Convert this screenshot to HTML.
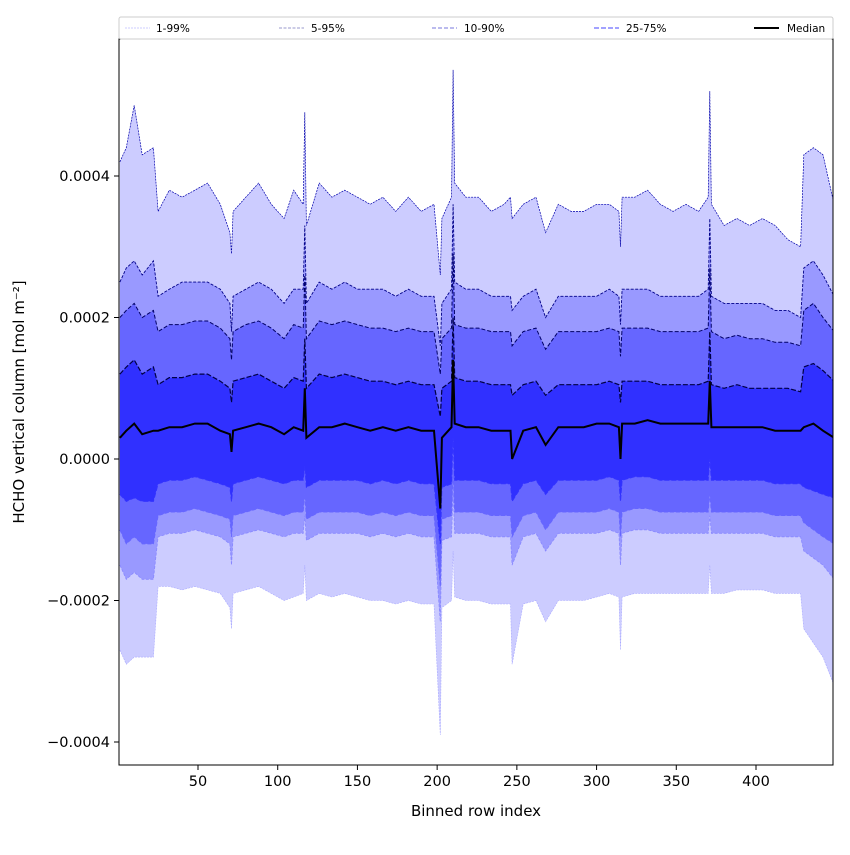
<!DOCTYPE html>
<html><head><meta charset="utf-8"><style>
body{margin:0;background:#fff;}
svg text{font-family:"DejaVu Sans","Liberation Sans",sans-serif;}
</style></head><body>
<svg id="chart" width="850" height="850" xmlns="http://www.w3.org/2000/svg"></svg>
<script>
const xs=[1,5,10,15,22,25,32,40,48,56,64,70,71,72,80,88,96,104,110,116,117,118,126,134,142,150,158,166,174,182,190,198,202,203,209,210,211,218,226,234,242,246,247,254,262,268,276,284,292,300,308,314,315,316,324,332,340,348,356,364,370,371,372,380,388,396,404,412,420,428,430,436,442,449];
const p99=[4.2,4.4,5.0,4.3,4.4,3.5,3.8,3.7,3.8,3.9,3.6,3.2,2.9,3.5,3.7,3.9,3.6,3.4,3.8,3.6,4.9,3.3,3.9,3.7,3.8,3.7,3.6,3.7,3.5,3.7,3.5,3.6,2.6,3.4,3.7,5.5,3.9,3.7,3.7,3.5,3.6,3.7,3.4,3.6,3.7,3.2,3.6,3.5,3.5,3.6,3.6,3.5,3.0,3.7,3.7,3.8,3.6,3.5,3.6,3.5,3.7,5.2,3.6,3.3,3.4,3.3,3.4,3.3,3.1,3.0,4.3,4.4,4.3,3.6];
const p95=[2.5,2.7,2.8,2.6,2.8,2.3,2.4,2.5,2.5,2.5,2.4,2.2,1.8,2.3,2.4,2.5,2.4,2.2,2.4,2.4,3.3,2.2,2.5,2.4,2.5,2.4,2.4,2.4,2.3,2.4,2.3,2.3,1.6,2.2,2.4,3.6,2.5,2.4,2.4,2.3,2.3,2.3,2.1,2.3,2.4,2.0,2.3,2.3,2.3,2.3,2.4,2.3,1.9,2.4,2.4,2.4,2.3,2.3,2.3,2.3,2.4,3.4,2.3,2.2,2.2,2.2,2.2,2.1,2.1,2.0,2.7,2.8,2.6,2.3];
const p90=[2.0,2.1,2.2,2.0,2.1,1.8,1.9,1.9,1.95,1.95,1.85,1.7,1.4,1.8,1.9,1.95,1.85,1.7,1.9,1.85,2.6,1.7,1.95,1.9,1.95,1.9,1.85,1.85,1.8,1.85,1.8,1.8,1.2,1.7,1.85,2.9,1.9,1.85,1.85,1.8,1.8,1.8,1.6,1.8,1.85,1.55,1.8,1.8,1.8,1.8,1.85,1.8,1.45,1.85,1.85,1.85,1.8,1.8,1.8,1.8,1.85,2.7,1.8,1.7,1.75,1.7,1.7,1.65,1.65,1.6,2.1,2.2,2.0,1.8];
const p75=[1.2,1.3,1.4,1.2,1.3,1.05,1.15,1.15,1.2,1.2,1.1,1.0,0.8,1.1,1.15,1.2,1.1,1.0,1.15,1.1,1.7,1.0,1.2,1.15,1.2,1.15,1.1,1.1,1.05,1.1,1.05,1.05,0.6,1.0,1.1,2.0,1.15,1.1,1.1,1.05,1.05,1.05,0.9,1.05,1.1,0.9,1.05,1.05,1.05,1.05,1.1,1.05,0.8,1.1,1.1,1.1,1.05,1.05,1.05,1.05,1.1,1.8,1.05,1.0,1.05,1.0,1.0,1.0,1.0,0.95,1.3,1.35,1.25,1.1];
const p50=[0.3,0.4,0.5,0.35,0.4,0.4,0.45,0.45,0.5,0.5,0.4,0.35,0.1,0.4,0.45,0.5,0.45,0.35,0.45,0.4,1.0,0.3,0.45,0.45,0.5,0.45,0.4,0.45,0.4,0.45,0.4,0.4,-0.7,0.3,0.45,1.4,0.5,0.45,0.45,0.4,0.4,0.4,0.0,0.4,0.45,0.2,0.45,0.45,0.45,0.5,0.5,0.45,0.0,0.5,0.5,0.55,0.5,0.5,0.5,0.5,0.5,1.1,0.45,0.45,0.45,0.45,0.45,0.4,0.4,0.4,0.45,0.5,0.4,0.3];
const p25=[-0.5,-0.6,-0.55,-0.6,-0.6,-0.35,-0.3,-0.3,-0.25,-0.3,-0.35,-0.4,-0.6,-0.35,-0.3,-0.25,-0.3,-0.35,-0.3,-0.3,-0.1,-0.4,-0.3,-0.3,-0.3,-0.3,-0.35,-0.3,-0.35,-0.3,-0.35,-0.35,-1.2,-0.4,-0.35,0.3,-0.3,-0.3,-0.3,-0.35,-0.35,-0.35,-0.6,-0.35,-0.3,-0.5,-0.3,-0.3,-0.3,-0.3,-0.25,-0.3,-0.6,-0.3,-0.25,-0.25,-0.3,-0.3,-0.3,-0.3,-0.3,0.0,-0.3,-0.3,-0.3,-0.3,-0.3,-0.35,-0.35,-0.35,-0.4,-0.45,-0.5,-0.55];
const p10=[-1.0,-1.2,-1.1,-1.2,-1.2,-0.8,-0.75,-0.75,-0.7,-0.75,-0.8,-0.85,-1.1,-0.8,-0.75,-0.7,-0.75,-0.8,-0.75,-0.75,-0.5,-0.85,-0.75,-0.75,-0.75,-0.75,-0.8,-0.75,-0.8,-0.75,-0.8,-0.8,-1.8,-0.85,-0.8,-0.2,-0.75,-0.75,-0.75,-0.8,-0.8,-0.8,-1.1,-0.8,-0.75,-1.0,-0.75,-0.75,-0.75,-0.75,-0.7,-0.75,-1.1,-0.75,-0.7,-0.7,-0.75,-0.75,-0.75,-0.75,-0.75,-0.5,-0.75,-0.75,-0.75,-0.75,-0.75,-0.8,-0.8,-0.8,-0.9,-1.0,-1.1,-1.2];
const p5=[-1.5,-1.7,-1.6,-1.7,-1.7,-1.1,-1.05,-1.05,-1.0,-1.05,-1.1,-1.2,-1.5,-1.1,-1.05,-1.0,-1.05,-1.1,-1.05,-1.05,-0.8,-1.15,-1.05,-1.05,-1.05,-1.05,-1.1,-1.05,-1.1,-1.05,-1.1,-1.1,-2.3,-1.15,-1.1,-0.5,-1.05,-1.05,-1.05,-1.1,-1.1,-1.1,-1.5,-1.1,-1.05,-1.3,-1.05,-1.05,-1.05,-1.05,-1.0,-1.05,-1.5,-1.05,-1.0,-1.0,-1.05,-1.05,-1.05,-1.05,-1.05,-0.8,-1.05,-1.05,-1.05,-1.05,-1.05,-1.1,-1.1,-1.1,-1.3,-1.4,-1.5,-1.7];
const p1=[-2.7,-2.9,-2.8,-2.8,-2.8,-1.8,-1.8,-1.85,-1.8,-1.85,-1.9,-2.1,-2.4,-1.9,-1.85,-1.8,-1.9,-2.0,-1.95,-1.9,-1.5,-2.0,-1.9,-1.95,-1.9,-1.95,-2.0,-2.0,-2.05,-2.0,-2.05,-2.05,-3.9,-2.1,-2.0,-1.3,-1.95,-2.0,-2.0,-2.05,-2.05,-2.05,-2.9,-2.05,-2.0,-2.3,-2.0,-2.0,-2.0,-1.95,-1.9,-1.95,-2.7,-1.95,-1.9,-1.9,-1.9,-1.9,-1.9,-1.9,-1.9,-1.5,-1.9,-1.9,-1.85,-1.85,-1.85,-1.9,-1.9,-1.9,-2.4,-2.6,-2.8,-3.2];
const xTicks=[50,100,150,200,250,300,350,400];
const yTicks=[-4,-2,0,2,4];
const yTickLabels=["\u22120.0004","\u22120.0002","0.0000","0.0002","0.0004"];

const L=119,R=833,T=39,B=765;
const sx=v=>198+(v-50)*(558/350);
const sy=v=>459-v*70.75;
const NS="http://www.w3.org/2000/svg";
const svg=document.getElementById('chart');
function mk(t,a,p){const e=document.createElementNS(NS,t);for(const k in a)e.setAttribute(k,a[k]);(p||svg).appendChild(e);return e;}
const clip=mk('clipPath',{id:'pc'});mk('rect',{x:L,y:T,width:R-L,height:B-T},clip);
const g=mk('g',{'clip-path':'url(#pc)'});
function line(arr){return xs.map((x,i)=>(i?'L':'M')+sx(x).toFixed(1)+','+sy(arr[i]).toFixed(1)).join('');}
function band(lo,hi,fill,name){
  let d=line(hi);
  for(let i=xs.length-1;i>=0;i--)d+='L'+sx(xs[i]).toFixed(1)+','+sy(lo[i]).toFixed(1);
  const p=mk('path',{d:d+'Z',fill:fill,stroke:'none'},g);
  
  
}
band(p1,p99,'#ccccff','band-1-99');
band(p5,p95,'#9999ff','band-5-95');
band(p10,p90,'#6666ff','band-10-90');
band(p25,p75,'#3030ff','band-25-75');
function ln(arr,col,w,dash,name){
  const p=mk('path',{d:line(arr),fill:'none',stroke:col,'stroke-width':w,'stroke-dasharray':dash},g);
  
  
}
ln(p99,'#0000aa',0.7,'2,1','line-p99');
ln(p95,'#000088',0.9,'3,1.5','line-p95');
ln(p90,'#000066',1,'4,2','line-p90');
ln(p75,'#000044',1.2,'5,2','line-p75');
ln(p1,'#aaaaff',0.6,'2,1','line-p1');
ln(p5,'#8888ff',0.8,'3,1.5','line-p5');
ln(p10,'#6666ff',0.9,'4,2','line-p10');
ln(p25,'#3333ff',1,'5,2','line-p25');
ln(p50,'#000000',2,'','line-median');

const fr=mk('rect',{x:L,y:T,width:R-L,height:B-T,fill:'none',stroke:'#000','stroke-width':1});

xTicks.forEach(v=>{
  mk('line',{x1:sx(v),x2:sx(v),y1:B,y2:B+5,stroke:'#000'});
  const t=mk('text',{x:sx(v),y:B+21,'text-anchor':'middle','font-size':14.5});
  t.textContent=v;
  
});
yTicks.forEach((v,i)=>{
  mk('line',{x1:L-5,x2:L,y1:sy(v),y2:sy(v),stroke:'#000'});
  const t=mk('text',{x:L-9,y:sy(v)+5,'text-anchor':'end','font-size':14.5});
  t.textContent=yTickLabels[i];
  
});
</script>
<svg width="850" height="850" style="position:absolute;left:0;top:0">
<text x="476" y="816" text-anchor="middle" font-size="15">Binned row index</text>
<text transform="translate(24,402) rotate(-90)" text-anchor="middle" font-size="15">HCHO vertical column [mol m⁻²]</text>
<g>
<rect x="119" y="17" width="714" height="22" fill="#fff" stroke="#ccc" rx="2"/>
<g><line x1="125" y1="28" x2="150" y2="28" stroke="#ccccff" stroke-dasharray="2,1"/><text x="156" y="32" font-size="10.5">1-99%</text></g>
<g><line x1="279" y1="28" x2="304" y2="28" stroke="#9999cc" stroke-dasharray="3,1.5"/><text x="311" y="32" font-size="10.5">5-95%</text></g>
<g><line x1="432" y1="28" x2="457" y2="28" stroke="#7777dd" stroke-dasharray="4,2"/><text x="464" y="32" font-size="10.5">10-90%</text></g>
<g><line x1="594" y1="28" x2="619" y2="28" stroke="#4444ff" stroke-dasharray="5,2"/><text x="626" y="32" font-size="10.5">25-75%</text></g>
<g><line x1="754" y1="28" x2="779" y2="28" stroke="#000" stroke-width="2"/><text x="787" y="32" font-size="10.5">Median</text></g>
</g>
</svg>
</body></html>
